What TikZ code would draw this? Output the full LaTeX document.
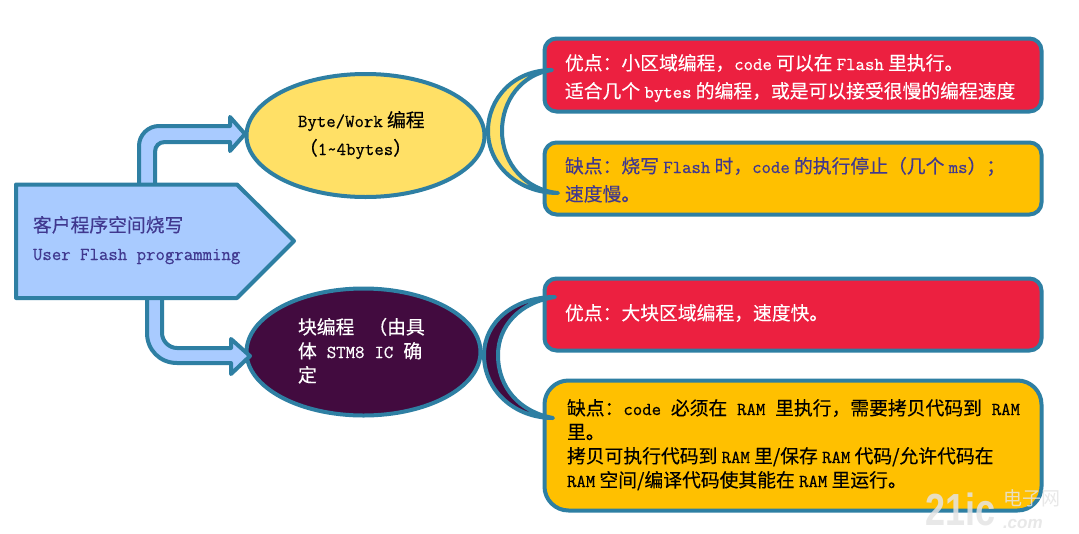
\documentclass[tikz,border=0pt]{standalone}
\usepackage{fontspec}
\usetikzlibrary{shapes.geometric}
\setmainfont[FakeBold=0.25]{Noto Sans CJK SC}
\newfontfamily\plainzh{Noto Sans CJK SC}
\setmonofont[FakeBold=0.6]{Latin Modern Mono}
\newfontfamily\wmf{Liberation Sans}
\newcommand\en[1]{{\ttfamily\fontsize{18.3}{20}\selectfont #1}}
\definecolor{edge}{HTML}{2E7FA3}
\definecolor{skyfill}{HTML}{A9CBFF}
\definecolor{moonyellow}{HTML}{FFE066}
\definecolor{plum}{HTML}{420B3F}
\definecolor{redbox}{HTML}{EC2040}
\definecolor{amberbox}{HTML}{FFC000}
\definecolor{inkblue}{HTML}{40388F}
\definecolor{wmark}{HTML}{E4E4E4}
\tikzset{
  shapeline/.style={draw=edge,line width=4pt,line join=round},
  bubble/.style={ellipse,shapeline,inner sep=0pt,outer sep=0pt},
  card/.style={rectangle,shapeline,rounded corners=#1,inner sep=0pt,outer sep=0pt},
  card/.default=12pt,
  txt/.style={anchor=base west,inner sep=0pt,outer sep=0pt,font=\fontsize{18.8}{24}\selectfont},
  wm/.style={anchor=base west,inner sep=0pt,outer sep=0pt,text=wmark,text opacity=.85},
}
\begin{document}
\begin{tikzpicture}[x=1pt,y=-1pt]
\path[use as bounding box,fill=white] (0,0) rectangle (1079,533);
% bubbles
\node[bubble,fill=moonyellow,minimum width=238pt,minimum height=123pt] (byte) at (365.5,135.5) {};
\node[bubble,fill=plum,minimum width=234pt,minimum height=127pt] (block) at (363.5,352) {};
% block arrows
\draw[shapeline,fill=skyfill] (139,184) -- (139,146) .. controls (139,135) and (148,126) .. (159,126) -- (230,126) -- (230,117) -- (245,134) -- (230,151) -- (230,142) -- (165,142) .. controls (159,142) and (155,146) .. (155,152) -- (155,184);
\draw[shapeline,fill=skyfill] (147,298) -- (147,333) .. controls (147,350) and (160,363) .. (177,363) -- (231,363) -- (231,374) -- (250,356) -- (231,339) -- (231,348) -- (177,348) .. controls (169,348) and (162,341) .. (162,333) -- (162,298);
% source
\draw[shapeline,fill=skyfill] (16,184.5) -- (237,184.5) -- (294,241) -- (237,298) -- (16,298) -- cycle;
% cards
\node[card,fill=redbox,minimum width=497pt,minimum height=73pt] (pro1) at (793,75) {};
\node[card,fill=amberbox,minimum width=497pt,minimum height=72pt] (con1) at (793,178.5) {};
\node[card,fill=redbox,minimum width=497pt,minimum height=72pt] (pro2) at (793,314.5) {};
\node[card=24pt,fill=amberbox,minimum width=497pt,minimum height=130pt] (con2) at (793,445.5) {};
% crescents
\draw[shapeline,fill=moonyellow] (552,70) .. controls (514,70) and (488,98) .. (488,131) .. controls (488,165) and (518,193) .. (558,193) .. controls (525,190) and (502,163) .. (502,131) .. controls (502,100) and (522,74) .. (552,70) -- cycle;
\draw[shapeline,fill=plum] (555,297) .. controls (514,297) and (484,322) .. (484,355) .. controls (484,390) and (514,418) .. (553,418) .. controls (520,412) and (498,388) .. (498,355) .. controls (498,326) and (520,302) .. (555,297) -- cycle;
% texts
\node[txt,text=inkblue] (src1) at (33,232) {客户程序空间烧写};
\node[txt,text=inkblue] (src2) at (33,260) {\en{User Flash programming}};
\node[txt,text=black] (b1) at (298,127) {\en{Byte/Work} 编程};
\node[txt,text=black] (b2) at (299,155) {（\en{1\textasciitilde 4bytes}）};
\node[txt,text=white] (k1) at (298,334) {块编程\hspace{14pt}（由具};
\node[txt,text=white] (k2) at (298,358) {体\hspace{10pt}\en{STM8}\hspace{10pt}\en{IC}\hspace{10pt}确};
\node[txt,text=white] (k3) at (298,382) {定};
\node[txt,text=white] (p11) at (565,70) {优点：小区域编程，\en{code} 可以在 \en{Flash} 里执行。};
\node[txt,text=white] (p12) at (565,98) {适合几个 \en{bytes} 的编程，或是可以接受很慢的编程速度};
\node[txt,text=inkblue] (c11) at (565,173) {缺点：烧写 \en{Flash} 时，\en{code} 的执行停止（几个 \en{ms}）；};
\node[txt,text=inkblue] (c12) at (565,201) {速度慢。};
\node[txt,text=white] (p21) at (565,320) {优点：大块区域编程，速度快。};
\node[txt,text=black] (c21) at (567,415) {\makebox[453pt][s]{缺点：\en{code} 必须在 \en{RAM} 里执行，需要拷贝代码到 \en{RAM}}};
\node[txt,text=black] (c22) at (567,439) {里。};
\node[txt,text=black] (c23) at (567,463) {拷贝可执行代码到 \en{RAM} 里/保存 \en{RAM} 代码/允许代码在};
\node[txt,text=black] (c24) at (567,487) {\en{RAM} 空间/编译代码使其能在 \en{RAM} 里运行。};
% watermark
\node[wm,font=\wmf\bfseries\fontsize{45}{45}\selectfont,xscale=.8] (wm1) at (925,525) {21ic};
\node[wm,font=\plainzh\fontsize{19}{19}\selectfont] (wm2) at (1003,505) {电子网};
\node[wm,font=\wmf\bfseries\itshape\fontsize{17}{17}\selectfont] (wm3) at (1003,528) {.com};
\end{tikzpicture}
\end{document}
